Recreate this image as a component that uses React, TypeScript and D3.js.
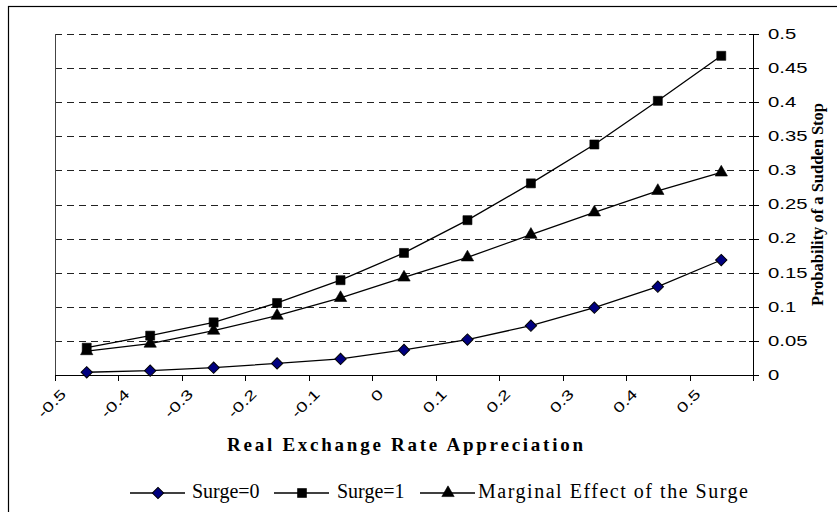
import { useEffect, useRef } from 'react';
import * as d3 from 'd3';

const categories = ['-0.5', '-0.4', '-0.3', '-0.2', '-0.1', '0', '0.1', '0.2', '0.3', '0.4', '0.5'];
const surge0 = [0.004, 0.0063, 0.0107, 0.017, 0.0235, 0.0367, 0.052, 0.0723, 0.0987, 0.1295, 0.1686];
const surge1 = [0.04, 0.0577, 0.0772, 0.1056, 0.139, 0.179, 0.227, 0.281, 0.338, 0.402, 0.468];
const marginal = [0.035, 0.046, 0.065, 0.087, 0.113, 0.143, 0.1725, 0.2057, 0.2385, 0.27, 0.297];
const yTicks = [0, 0.05, 0.1, 0.15, 0.2, 0.25, 0.3, 0.35, 0.4, 0.45, 0.5];
const yTickLabels = ['0', '0.05', '0.1', '0.15', '0.2', '0.25', '0.3', '0.35', '0.4', '0.45', '0.5'];

const SANS = '"Liberation Sans", Arial, sans-serif';
const SERIF = '"Liberation Serif", "Times New Roman", serif';

type Marker = 'diamond' | 'square' | 'triangle';

function markerPath(m: Marker) {
  if (m === 'diamond') return d3.symbol(d3.symbolSquare, 64)()!;
  if (m === 'square') return d3.symbol(d3.symbolSquare, 81)()!;
  return d3.symbol(d3.symbolTriangle, 66)()!;
}

export default function App() {
  const svgRef = useRef<SVGSVGElement>(null);

  useEffect(() => {
    const svg = d3.select(svgRef.current);
    svg.selectAll('*').remove();

    const W = 837;
    const H = 512;
    const plot = { left: 55, right: 753, top: 34, bottom: 375 };

    svg.attr('width', W).attr('height', H).attr('viewBox', `0 0 ${W} ${H}`);

    // chart frame (runs off the right / bottom edge like the source)
    svg.append('rect')
      .attr('x', 8.5).attr('y', 6.5).attr('width', 900).attr('height', 600)
      .attr('fill', '#fff').attr('stroke', '#000').attr('stroke-width', 1.2);

    const x = d3.scaleBand<string>().domain(categories).range([plot.left, plot.right]).padding(0);
    const y = d3.scaleLinear().domain([0, 0.5]).range([plot.bottom, plot.top]);
    const cx = (c: string) => (x(c) ?? 0) + x.bandwidth() / 2;

    const g = svg.append('g');

    // dashed gridlines
    g.append('g')
      .selectAll('line')
      .data(yTicks.filter(t => t > 0))
      .join('line')
      .attr('x1', plot.left).attr('x2', plot.right)
      .attr('y1', d => Math.round(y(d)) + 0.5).attr('y2', d => Math.round(y(d)) + 0.5)
      .attr('stroke', '#222').attr('stroke-width', 1).attr('stroke-dasharray', '7,5');

    // left border + bottom axis
    g.append('line')
      .attr('x1', plot.left + 0.5).attr('x2', plot.left + 0.5)
      .attr('y1', plot.top).attr('y2', plot.bottom)
      .attr('stroke', '#444');
    g.append('line')
      .attr('x1', plot.left).attr('x2', plot.right)
      .attr('y1', plot.bottom + 0.5).attr('y2', plot.bottom + 0.5)
      .attr('stroke', '#000');

    // x tick marks at category boundaries
    const boundaries = [...categories.map(c => x(c) ?? 0), plot.right];
    g.append('g')
      .selectAll('line')
      .data(boundaries)
      .join('line')
      .attr('x1', d => Math.round(d) + 0.5).attr('x2', d => Math.round(d) + 0.5)
      .attr('y1', plot.bottom).attr('y2', plot.bottom + 6)
      .attr('stroke', '#000');

    // x tick labels, rotated
    g.append('g')
      .selectAll('text')
      .data(categories)
      .join('text')
      .attr('transform', d => `translate(${(x(d) ?? 0) + 12},${plot.bottom + 20}) rotate(-45) scale(1.4,1)`)
      .attr('text-anchor', 'end')
      .attr('font-family', SANS)
      .attr('font-size', 14)
      .attr('fill', '#000')
      .text(d => d);

    // right y axis
    g.append('line')
      .attr('x1', plot.right + 0.5).attr('x2', plot.right + 0.5)
      .attr('y1', plot.top).attr('y2', plot.bottom + 6)
      .attr('stroke', '#000');
    g.append('g')
      .selectAll('line')
      .data(yTicks)
      .join('line')
      .attr('x1', plot.right - 4).attr('x2', plot.right + 6)
      .attr('y1', d => Math.round(y(d)) + 0.5).attr('y2', d => Math.round(y(d)) + 0.5)
      .attr('stroke', '#000');
    g.append('g')
      .selectAll('text')
      .data(yTicks)
      .join('text')
      .attr('transform', d => `translate(${plot.right + 15},${y(d)}) scale(1.45,1)`)
      .attr('dominant-baseline', 'central')
      .attr('font-family', SANS)
      .attr('font-size', 14)
      .attr('fill', '#000')
      .text((_, i) => yTickLabels[i]);

    // axis titles
    g.append('text')
      .attr('transform', `translate(823,${(plot.top + plot.bottom) / 2}) rotate(-90)`)
      .attr('text-anchor', 'middle')
      .attr('font-family', SERIF)
      .attr('font-weight', 'bold')
      .attr('font-size', 16)
      .attr('textLength', 203)
      .attr('lengthAdjust', 'spacingAndGlyphs')
      .text('Probability of a Sudden Stop');

    g.append('text')
      .attr('x', 227)
      .attr('y', 451)
      .attr('font-family', SERIF)
      .attr('font-weight', 'bold')
      .attr('font-size', 19)
      .attr('textLength', 356)
      .attr('lengthAdjust', 'spacing')
      .text('Real Exchange Rate Appreciation');

    // series
    const series: { name: string; values: number[]; marker: Marker; fill: string }[] = [
      { name: 'Surge=0', values: surge0, marker: 'diamond', fill: '#000080' },
      { name: 'Surge=1', values: surge1, marker: 'square', fill: '#000' },
      { name: 'Marginal Effect of the Surge', values: marginal, marker: 'triangle', fill: '#000' },
    ];

    const line = d3.line<number>()
      .x((_, i) => cx(categories[i]))
      .y(d => y(d));

    const drawMarker = (sel: d3.Selection<any, any, any, any>, m: Marker, fill: string) => {
      sel.attr('d', markerPath(m))
        .attr('fill', fill)
        .attr('stroke', '#000')
        .attr('stroke-width', m === 'diamond' ? 1 : 0.6);
    };

    series.forEach(s => {
      g.append('path')
        .datum(s.values)
        .attr('fill', 'none')
        .attr('stroke', '#000')
        .attr('stroke-width', 1.3)
        .attr('d', line);
      const pts = g.append('g')
        .selectAll('path')
        .data(s.values)
        .join('path')
        .attr('transform', (d, i) =>
          `translate(${cx(categories[i])},${y(d)})${s.marker === 'diamond' ? ' rotate(45)' : ''}`);
      drawMarker(pts, s.marker, s.fill);
    });

    // legend
    const legendY = 493;
    const legendItems = [
      { ...series[0], lx: 130, tx: 192, len: 0 },
      { ...series[1], lx: 274, tx: 337, len: 0 },
      { ...series[2], lx: 420, tx: 478, len: 270 },
    ];
    const lg = g.append('g')
      .selectAll('g')
      .data(legendItems)
      .join('g');
    lg.append('line')
      .attr('x1', d => d.lx).attr('x2', d => d.lx + 55)
      .attr('y1', legendY).attr('y2', legendY)
      .attr('stroke', '#000').attr('stroke-width', 1.3);
    lg.append('path')
      .attr('transform', d => `translate(${d.lx + 28},${legendY})${d.marker === 'diamond' ? ' rotate(45)' : ''}`)
      .each(function (d) {
        drawMarker(d3.select(this), d.marker, d.fill);
      });
    lg.append('text')
      .attr('x', d => d.tx)
      .attr('y', legendY + 5)
      .attr('font-family', SERIF)
      .attr('font-size', 20)
      .attr('fill', '#000')
      .each(function (d) {
        if (d.len) d3.select(this).attr('textLength', d.len).attr('lengthAdjust', 'spacing');
      })
      .text(d => d.name);
  }, []);

  return (
    <div style={{ position: 'absolute', left: 0, top: 0 }}>
      <svg ref={svgRef} style={{ display: 'block' }} />
    </div>
  );
}
